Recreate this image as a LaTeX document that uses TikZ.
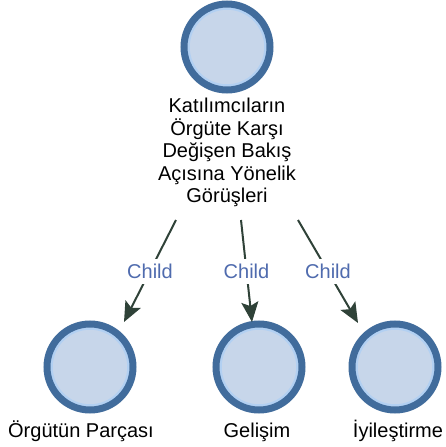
\documentclass[tikz,border=0pt]{standalone}
\usepackage{fontspec}
\setmainfont{Liberation Sans}
\usetikzlibrary{arrows.meta}
\definecolor{ringblue}{HTML}{416C9C}
\definecolor{innerblue}{HTML}{B2D0F2}
\definecolor{fillblue}{HTML}{C7D6EA}
\definecolor{linkgray}{HTML}{2F4238}
\definecolor{childblue}{HTML}{4F6BAE}
\begin{document}
\begin{tikzpicture}[
  bubble/.style={circle, minimum size=86pt, inner sep=0pt, fill=fillblue,
    draw=ringblue, line width=7pt,
    path picture={\draw[innerblue, line width=2.5pt]
      (path picture bounding box.center) circle (38.5pt);}},
  lbl/.style={inner sep=0pt, font=\fontsize{20}{22.5}\selectfont, text=black},
  link/.style={draw=linkgray, line width=2pt,
    -{Stealth[length=20pt,width=17pt,inset=4pt]}},
  childtag/.style={fill=white, text=childblue, inner sep=0pt,
    minimum height=25pt, minimum width=50pt,
    font=\fontsize{20}{22}\selectfont}]
  % canvas in pixel units, origin at the top-left corner
  \begin{scope}[x=1pt,y=-1pt]
  \useasboundingbox (0,0) rectangle (445,447);

  % root bubble and its caption
  \node[bubble] (root) at (227,47) {};
  \node[lbl, anchor=north, align=center] (rootlbl) at (227,98)
    {Katılımcıların\\Örgüte Karşı\\Değişen Bakış\\Açısına Yönelik\\Görüşleri};

  % child bubbles and captions
  \node[bubble] (kid1) at (90,367) {};
  \node[bubble] (kid2) at (259,367) {};
  \node[bubble] (kid3) at (395,367) {};
  \node[lbl, anchor=base] (kid1lbl) at (81,437) {Örgütün Parçası};
  \node[lbl, anchor=base] (kid2lbl) at (257,437) {Gelişim};
  \node[lbl, anchor=base] (kid3lbl) at (398,437) {İyileştirme};

  % connector ends
  \coordinate (s1) at (176,220);
  \coordinate (e1) at (124,322);
  \coordinate (s2) at (241,220);
  \coordinate (e2) at (252,322);
  \coordinate (s3) at (298,220);
  \coordinate (e3) at (358,323);

  \draw[link] (s1) -- node[childtag] (tag1) {Child} (e1);
  \draw[link] (s2) -- node[childtag] (tag2) {Child} (e2);
  \draw[link] (s3) -- node[childtag] (tag3) {Child} (e3);
  \end{scope}
\end{tikzpicture}
\end{document}
